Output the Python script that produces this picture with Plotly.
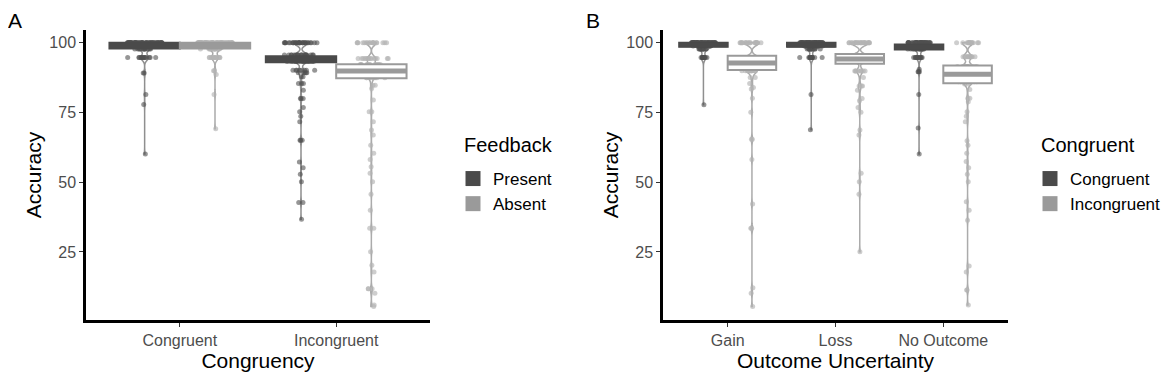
import plotly.graph_objects as go
from plotly.subplots import make_subplots

# ---------------- Panel A: Congruency x Feedback ----------------
a_categories = ["Congruent", "Incongruent"]
a_levels = ["Present", "Absent"]

# box statistics per level, ordered as a_categories
a_present_q1 = [98.0, 93.0]
a_present_median = [99.0, 94.0]
a_present_q3 = [100.0, 95.2]
a_absent_q1 = [98.0, 87.3]
a_absent_median = [99.0, 89.9]
a_absent_q3 = [100.0, 92.3]

# participant accuracies (value, count) read from the points
a_present_congruent_vals = [100, 98.9, 97.8, 94.7, 89.2, 81.5, 77.9, 60.1]
a_present_congruent_cnts = [60, 15, 12, 14, 2, 1, 1, 1]
a_present_incongruent_vals = [100, 95.6, 94.4, 93.3, 90.2, 89.3, 87.8, 85.4, 83.0, 80.0, 76.8, 75.3, 73.7,
                              71.7, 65.1, 57.3, 55.2, 52.9, 50.2, 42.7, 36.7]
a_present_incongruent_cnts = [30, 20, 25, 15, 8, 5, 2, 3, 1, 3, 1, 1, 1, 1, 3, 1, 1, 1, 1, 2, 1]
a_absent_congruent_vals = [100, 98.9, 97.8, 94.7, 90.0, 88.6, 81.5, 69.2]
a_absent_congruent_cnts = [58, 15, 12, 12, 2, 1, 1, 1]
a_absent_incongruent_vals = [100, 94.4, 92.2, 90.0, 88.9, 87.5, 84.8, 83.6, 79.5, 75.3, 71.7, 68.7, 66.9, 63.3,
                             60.4, 58.2, 55.6, 53.2, 50.2, 45.7, 40.0, 33.5, 25.1, 20.2, 17.8, 11.8, 10.2, 6.0, 5.4]
a_absent_incongruent_cnts = [18, 14, 12, 15, 12, 8, 2, 1, 1, 2, 1, 1, 1, 1, 1, 1, 1, 1, 1, 1, 1, 2, 1, 1, 1, 3, 1, 1, 1]

# ---------------- Panel B: Outcome Uncertainty x Congruent ----------------
b_categories = ["Gain", "Loss", "No Outcome"]
b_levels = ["Congruent", "Incongruent"]

b_congruent_q1 = [98.6, 98.6, 97.6]
b_congruent_median = [99.3, 99.2, 98.4]
b_congruent_q3 = [100.0, 100.0, 99.4]
b_incongruent_q1 = [90.3, 92.5, 85.5]
b_incongruent_median = [92.8, 94.2, 88.7]
b_incongruent_q3 = [95.4, 96.0, 91.9]

b_congruent_gain_vals = [100, 98.9, 97.8, 94.7, 77.8]
b_congruent_gain_cnts = [60, 15, 12, 12, 1]
b_congruent_loss_vals = [100, 98.9, 97.8, 94.7, 81.5, 68.8]
b_congruent_loss_cnts = [60, 15, 12, 12, 1, 1]
b_congruent_none_vals = [100, 98.9, 97.8, 94.7, 90.5, 89.6, 81.5, 69.5, 60.1]
b_congruent_none_cnts = [45, 18, 15, 12, 1, 3, 1, 1, 1]
b_incongruent_gain_vals = [100, 94.4, 92.8, 90.0, 87.6, 85.4, 84.0, 83.4, 80.1, 75.1, 65.4, 58.2, 42.2, 33.5,
                           12.2, 10.2, 5.4]
b_incongruent_gain_cnts = [20, 20, 20, 14, 2, 1, 1, 1, 1, 1, 2, 1, 1, 2, 1, 1, 1]
b_incongruent_loss_vals = [100, 95.0, 94.2, 89.9, 87.6, 84.5, 83.0, 80.0, 79.2, 76.8, 75.1, 68.7, 66.9, 53.2,
                           50.2, 45.7, 25.1]
b_incongruent_loss_cnts = [25, 20, 20, 8, 1, 3, 1, 1, 1, 1, 1, 1, 1, 1, 1, 1, 1]
b_incongruent_none_vals = [100, 95.0, 91.5, 88.7, 86.0, 85.2, 83.3, 80.1, 78.9, 75.3, 73.7, 71.7, 64.9, 63.3,
                           60.4, 57.4, 55.2, 52.9, 50.2, 43.0, 40.0, 36.4, 20.0, 17.8, 11.4, 6.0]
b_incongruent_none_cnts = [15, 12, 14, 14, 12, 2, 1, 2, 1, 1, 1, 1, 1, 1, 1, 1, 1, 1, 1, 1, 1, 1, 1, 1, 2, 1]

y_tickvals = [25, 50, 75, 100]

# ---------------- styling ----------------
FONT = "Liberation Sans, Arial, sans-serif"
box_colors = {"dark": "#4a4a4a", "light": "#9a9a9a"}
violin_line = {"dark": "#8f8f8f", "light": "#ababab"}
point_colors = {"dark": "rgba(80,80,80,0.6)", "light": "rgba(180,180,180,0.65)"}


def expand(vals, cnts):
    out = []
    for v, c in zip(vals, cnts):
        out.extend([v] * c)
    return out


fig = make_subplots(rows=1, cols=2)


def add_group(col, cats, level, tone, q1, med, q3, samples, legend_name):
    grp = f"panel{col}"
    fig.add_trace(go.Box(
        x=cats, q1=q1, median=med, q3=q3, lowerfence=q1, upperfence=q3,
        fillcolor="white", line=dict(color=box_colors[tone], width=2),
        whiskerwidth=0, boxpoints=False, offsetgroup=level, alignmentgroup=grp,
        showlegend=False, hoverinfo="skip"), row=1, col=col)
    # thick median bar (ggplot fatten)
    fig.add_trace(go.Box(
        x=cats, q1=med, median=med, q3=med, lowerfence=med, upperfence=med,
        fillcolor=box_colors[tone], line=dict(color=box_colors[tone], width=5),
        whiskerwidth=0, boxpoints=False, offsetgroup=level, alignmentgroup=grp,
        showlegend=False, hoverinfo="skip"), row=1, col=col)
    xs, ys = [], []
    for cat, (vals, cnts) in zip(cats, samples):
        e = expand(vals, cnts)
        ys.extend(e)
        xs.extend([cat] * len(e))
    fig.add_trace(go.Violin(
        x=xs, y=ys, points="all", jitter=0.9, pointpos=0, spanmode="hard", bandwidth=1.0,
        scalemode="width", fillcolor="rgba(255,255,255,0)",
        line=dict(color=violin_line[tone], width=1.5),
        marker=dict(size=5, color=point_colors[tone], line=dict(width=0)),
        offsetgroup=level, alignmentgroup=grp, showlegend=False, hoverinfo="skip"), row=1, col=col)
    # legend key
    fig.add_trace(go.Scatter(
        x=[None], y=[None], mode="markers", name=level,
        marker=dict(symbol="square", size=15, color=box_colors[tone]),
        legend=legend_name, showlegend=True), row=1, col=col)


add_group(1, a_categories, "Present", "dark", a_present_q1, a_present_median, a_present_q3,
          [(a_present_congruent_vals, a_present_congruent_cnts),
           (a_present_incongruent_vals, a_present_incongruent_cnts)], "legend")
add_group(1, a_categories, "Absent", "light", a_absent_q1, a_absent_median, a_absent_q3,
          [(a_absent_congruent_vals, a_absent_congruent_cnts),
           (a_absent_incongruent_vals, a_absent_incongruent_cnts)], "legend")
add_group(2, b_categories, "Congruent", "dark", b_congruent_q1, b_congruent_median, b_congruent_q3,
          [(b_congruent_gain_vals, b_congruent_gain_cnts),
           (b_congruent_loss_vals, b_congruent_loss_cnts),
           (b_congruent_none_vals, b_congruent_none_cnts)], "legend2")
add_group(2, b_categories, "Incongruent", "light", b_incongruent_q1, b_incongruent_median, b_incongruent_q3,
          [(b_incongruent_gain_vals, b_incongruent_gain_cnts),
           (b_incongruent_loss_vals, b_incongruent_loss_cnts),
           (b_incongruent_none_vals, b_incongruent_none_cnts)], "legend2")

# the page body has an 8px default margin; lay out in page pixels and convert
PAGE_W, PAGE_H, BODY = 1170, 377, 8
W, H = PAGE_W - BODY, PAGE_H - BODY


def px_x(p):
    return (p - BODY) / W


def px_y(p):
    return 1 - (p - BODY) / H


ydom = [px_y(320), px_y(30)]

axis_common = dict(showline=True, linecolor="black", linewidth=2.5, ticks="outside", ticklen=4,
                   tickwidth=1.2, tickcolor="#333333", showgrid=False, zeroline=False, automargin=False,
                   tickfont=dict(family=FONT, size=16, color="#4d4d4d"),
                   title_font=dict(family=FONT, size=21, color="black"))

legend_common = dict(xanchor="left", yanchor="top", indentation=-8, tracegroupgap=0,
                     font=dict(family=FONT, size=17, color="black"), bgcolor="rgba(0,0,0,0)")

fig.update_layout(
    width=W, height=H, margin=dict(l=0, r=0, t=0, b=0, autoexpand=False),
    plot_bgcolor="white", paper_bgcolor="white",
    font=dict(family=FONT),
    boxmode="group", boxgap=0.1, boxgroupgap=0.0,
    violinmode="group", violingap=0.1, violingroupgap=0.45,
    xaxis=dict(domain=[px_x(86), px_x(430)], type="category", range=[-0.6, 1.6],
               title=dict(text="Congruency", standoff=0), **axis_common),
    xaxis2=dict(domain=[px_x(663), px_x(1008)], type="category", range=[-0.6, 2.6],
                title=dict(text="Outcome Uncertainty", standoff=0), **axis_common),
    yaxis=dict(domain=ydom, range=[0.6, 104.6], tickvals=y_tickvals,
               title=dict(text="Accuracy", standoff=2), **axis_common),
    yaxis2=dict(domain=ydom, range=[0.6, 104.6], tickvals=y_tickvals,
                title=dict(text="Accuracy", standoff=2), **axis_common),
    legend=dict(x=px_x(461), y=px_y(161), **legend_common),
    legend2=dict(x=px_x(1038), y=px_y(161), **legend_common),
    annotations=[
        dict(text="A", x=px_x(7), y=px_y(8.5), xref="paper", yref="paper", xanchor="left", yanchor="top",
             borderpad=0, showarrow=False, font=dict(family=FONT, size=21, color="black")),
        dict(text="B", x=px_x(585), y=px_y(8.5), xref="paper", yref="paper", xanchor="left", yanchor="top",
             borderpad=0, showarrow=False, font=dict(family=FONT, size=21, color="black")),
        dict(text="Feedback", x=px_x(462), y=px_y(145), xref="paper", yref="paper", xanchor="left",
             yanchor="middle", showarrow=False, font=dict(family=FONT, size=20, color="black")),
        dict(text="Congruent", x=px_x(1039), y=px_y(145), xref="paper", yref="paper", xanchor="left",
             yanchor="middle", showarrow=False, font=dict(family=FONT, size=20, color="black")),
    ],
)

fig.write_html("out.html")
